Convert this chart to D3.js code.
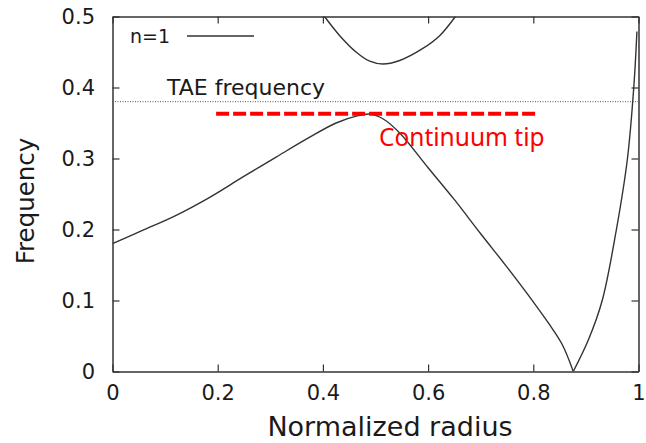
<!DOCTYPE html>
<html>
<head>
<script src="https://d3js.org/d3.v7.min.js"></script>
<style>
  body { margin: 0; background: #fff; }
  svg text { font-family: "DejaVu Sans", sans-serif; fill: #1a1a1a; }
</style>
</head>
<body>
<script>
// continuum branches (normalized radius, frequency)
var lowerR = [0, 0.058, 0.121, 0.184, 0.248, 0.311, 0.375, 0.425, 0.465, 0.49, 0.514, 0.546, 0.6, 0.65, 0.7, 0.75, 0.8, 0.83, 0.855, 0.876];
var lowerF = [0.18, 0.199, 0.22, 0.245, 0.274, 0.302, 0.33, 0.35, 0.36, 0.3625, 0.356, 0.336, 0.287, 0.242, 0.194, 0.147, 0.098, 0.067, 0.038, 0];
var edgeR = [0.876, 0.905, 0.931, 0.958, 0.979, 0.991, 0.997];
var edgeF = [0, 0.045, 0.1, 0.2, 0.3, 0.4, 0.479];
var upperR = [0.403, 0.432, 0.463, 0.489, 0.514, 0.546, 0.59, 0.622, 0.652];
var upperF = [0.5, 0.473, 0.45, 0.437, 0.433, 0.438, 0.455, 0.473, 0.5];

var taeFreq = 0.38;
var tipFreq = 0.363;
var tipRange = [0.197, 0.805];

var xTicks = [0, 0.2, 0.4, 0.6, 0.8, 1];
var yTicks = [0, 0.1, 0.2, 0.3, 0.4, 0.5];

// plot frame (window.top is reserved, so prefix the names)
var plotL = 112.5, plotR = 638.5, plotT = 16.5, plotB = 371.5;

var x = d3.scaleLinear().domain([0, 1]).range([plotL, plotR]);
var y = d3.scaleLinear().domain([0, 0.5]).range([plotB, plotT]);

var svg = d3.select("body").append("svg")
    .attr("width", 646)
    .attr("height", 443);

svg.append("clipPath").attr("id", "plot")
  .append("rect")
    .attr("x", plotL).attr("y", plotT)
    .attr("width", plotR - plotL).attr("height", plotB - plotT);

// axes, ticks pointing inward on all four sides
function styleAxis(g) {
  g.attr("font-family", null).attr("font-size", null);
  g.select(".domain").attr("stroke", "#333").attr("stroke-width", 1.5);
  g.selectAll(".tick line").attr("stroke", "#333").attr("stroke-width", 1.2);
  g.selectAll(".tick text").style("font-size", "21px").attr("fill", "#1a1a1a");
}

svg.append("g")
    .attr("transform", "translate(0," + plotB + ")")
    .call(d3.axisBottom(x).tickValues(xTicks).tickSize(-7).tickSizeOuter(0).tickPadding(13.5).tickFormat(d3.format("")))
    .call(styleAxis);
svg.append("g")
    .attr("transform", "translate(0," + plotT + ")")
    .call(d3.axisTop(x).tickValues(xTicks).tickSize(-7).tickSizeOuter(0).tickFormat(""))
    .call(styleAxis);
svg.append("g")
    .attr("transform", "translate(" + plotL + ",0)")
    .call(d3.axisLeft(y).tickValues(yTicks).tickSize(-7).tickSizeOuter(0).tickPadding(17.5).tickFormat(d3.format("")))
    .call(styleAxis);
svg.append("g")
    .attr("transform", "translate(" + plotR + ",0)")
    .call(d3.axisRight(y).tickValues(yTicks).tickSize(-7).tickSizeOuter(0).tickFormat(""))
    .call(styleAxis);

// TAE frequency line
svg.append("line")
    .attr("x1", x(0)).attr("x2", x(1))
    .attr("y1", y(taeFreq)).attr("y2", y(taeFreq))
    .attr("stroke", "#555").attr("stroke-width", 1)
    .attr("stroke-dasharray", "1,1.5");

svg.append("text")
    .attr("x", 167).attr("y", 95)
    .style("font-size", "22px")
    .text("TAE frequency");

// continuum curves
var line = d3.line()
    .x(function(d) { return x(d[0]); })
    .y(function(d) { return y(d[1]); })
    .curve(d3.curveCatmullRom.alpha(0.5));

var curves = svg.append("g").attr("clip-path", "url(#plot)");
[[lowerR, lowerF], [edgeR, edgeF], [upperR, upperF]].forEach(function(s) {
  curves.append("path")
      .datum(d3.zip(s[0], s[1]))
      .attr("d", line)
      .attr("fill", "none")
      .attr("stroke", "#333")
      .attr("stroke-width", 1.4);
});

// continuum tip marker
svg.append("line")
    .attr("x1", x(tipRange[0])).attr("x2", x(tipRange[1]))
    .attr("y1", y(tipFreq)).attr("y2", y(tipFreq))
    .attr("stroke", "#ff0000").attr("stroke-width", 4)
    .attr("stroke-dasharray", "13,4");

svg.append("text")
    .attr("x", 379).attr("y", 146)
    .style("font-family", "'Noto Sans', sans-serif")
    .style("font-size", "24.5px")
    .style("fill", "#ff0000")
    .text("Continuum tip");

// legend
svg.append("text")
    .attr("x", 130).attr("y", 43)
    .style("font-size", "19px")
    .text("n=1");
svg.append("line")
    .attr("x1", 187).attr("x2", 254)
    .attr("y1", 36).attr("y2", 36)
    .attr("stroke", "#333").attr("stroke-width", 1.4);

// axis titles
svg.append("text")
    .attr("transform", "translate(34,201) rotate(-90)")
    .attr("text-anchor", "middle")
    .style("font-size", "24.5px")
    .text("Frequency");

svg.append("text")
    .attr("x", 390).attr("y", 436)
    .attr("text-anchor", "middle")
    .style("font-size", "27px")
    .text("Normalized radius");
</script>
</body>
</html>
